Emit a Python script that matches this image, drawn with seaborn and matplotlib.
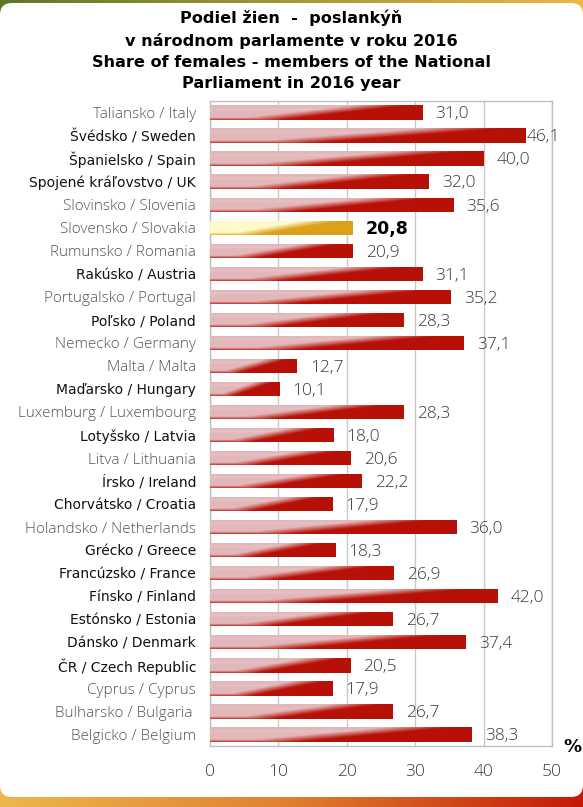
import numpy as np
import pandas as pd
import matplotlib
matplotlib.use("Agg")
import matplotlib.pyplot as plt
from matplotlib.patches import FancyBboxPatch
import seaborn as sns

# Share of women among members of national parliaments, 2016 (%)
countries = [
    "Taliansko / Italy", "Švédsko / Sweden", "Španielsko / Spain",
    "Spojené kráľovstvo / UK", "Slovinsko / Slovenia", "Slovensko / Slovakia",
    "Rumunsko / Romania", "Rakúsko / Austria", "Portugalsko / Portugal",
    "Poľsko / Poland", "Nemecko / Germany", "Malta / Malta",
    "Maďarsko / Hungary", "Luxemburg / Luxembourg", "Lotyšsko / Latvia",
    "Litva / Lithuania", "Írsko / Ireland", "Chorvátsko / Croatia",
    "Holandsko / Netherlands", "Grécko / Greece", "Francúzsko / France",
    "Fínsko / Finland", "Estónsko / Estonia", "Dánsko / Denmark",
    "ČR / Czech Republic", "Cyprus / Cyprus", "Bulharsko / Bulgaria ",
    "Belgicko / Belgium",
]
values = [
    31.0, 46.1, 40.0, 32.0, 35.6, 20.8, 20.9, 31.1, 35.2, 28.3, 37.1, 12.7,
    10.1, 28.3, 18.0, 20.6, 22.2, 17.9, 36.0, 18.3, 26.9, 42.0, 26.7, 37.4,
    20.5, 17.9, 26.7, 38.3,
]
# labels printed in the darker typeface
dark_labels = [
    "Švédsko / Sweden", "Španielsko / Spain", "Spojené kráľovstvo / UK",
    "Rakúsko / Austria", "Poľsko / Poland", "Maďarsko / Hungary",
    "Lotyšsko / Latvia", "Írsko / Ireland", "Chorvátsko / Croatia",
    "Grécko / Greece", "Francúzsko / France", "Fínsko / Finland",
    "Estónsko / Estonia", "Dánsko / Denmark", "ČR / Czech Republic",
]
highlight = "Slovensko / Slovakia"
x_ticks = [0, 10, 20, 30, 40, 50]

title = ("Podiel žien  -  poslankýň\n"
         "v národnom parlamente v roku 2016\n"
         "Share of females - members of the National\n"
         "Parliament in 2016 year")

df = pd.DataFrame({"country": countries, "value": values})

sns.set_theme(style="white")
plt.rcParams["font.family"] = ["DejaVu Sans"]

W, H = 583, 807
fig = plt.figure(figsize=(W / 100, H / 100), dpi=100)

# ---- frame: coloured bands behind a white rounded panel
bg = fig.add_axes([0, 0, 1, 1], zorder=-10)
bg.axis("off")
cols = np.linspace(0, 1, W)[None, :, None]
top_l = np.array([0.37, 0.47, 0.16])
top_r = np.array([0.93, 0.72, 0.25])
bot_l = np.array([0.93, 0.72, 0.30])
bot_m = np.array([0.88, 0.50, 0.18])
bot_r = np.array([0.77, 0.10, 0.03])
top_band = top_l + (top_r - top_l) * cols
bot_band = np.where(cols < 0.5,
                    bot_l + (bot_m - bot_l) * (cols / 0.5),
                    bot_m + (bot_r - bot_m) * ((cols - 0.5) / 0.5))
img = np.concatenate([np.repeat(top_band, H // 2, axis=0),
                      np.repeat(bot_band, H - H // 2, axis=0)], axis=0)
bg.imshow(img, extent=[0, W, H, 0], aspect="auto", interpolation="bilinear")
bg.add_patch(FancyBboxPatch((0, 3), W, 794,
                            boxstyle="round,pad=0,rounding_size=12",
                            fc="white", ec="none"))
bg.set_xlim(0, W)
bg.set_ylim(H, 0)

# ---- main chart
ax = fig.add_axes([210 / W, 1 - 746 / H, 342 / W, 645 / H])
sns.barplot(data=df, y="country", x="value", orient="h", ax=ax,
            width=0.62, color="#b81205", errorbar=None, zorder=3)


def bar_gradient(c_light, c_dark, nx=200, ny=40):
    u = np.linspace(0, 1, nx)[None, :]
    v = np.linspace(0, 1, ny)[:, None]          # 0 = top edge, 1 = bottom edge
    edge = 0.2 + 0.6 * (1 - v)
    mix = np.clip((u - edge) / 0.26 + 0.5, 0, 1)
    mix = np.maximum(mix, np.clip((v - 0.84) / 0.16, 0, 1) * 0.8)
    rgb = c_light[None, None, :] * (1 - mix[..., None]) + c_dark[None, None, :] * mix[..., None]
    shine = 0.12 * np.exp(-((v - 0.28) / 0.08) ** 2)
    rgb = rgb + (1 - rgb) * shine[..., None] * (1 - mix[..., None])
    return np.clip(rgb, 0, 1)


red_img = bar_gradient(np.array([0.89, 0.72, 0.73]), np.array([0.72, 0.07, 0.03]))
gold_img = bar_gradient(np.array([1.00, 0.98, 0.78]), np.array([0.87, 0.63, 0.10]))

for patch, name in zip(ax.patches, countries):
    x0, y0 = patch.get_x(), patch.get_y()
    w, h = patch.get_width(), patch.get_height()
    patch.set_facecolor("none")
    patch.set_edgecolor("none")
    im = ax.imshow(gold_img if name == highlight else red_img,
                   extent=[x0, x0 + w, y0 + h, y0], origin="upper",
                   aspect="auto", interpolation="bilinear", zorder=3)
    im.set_clip_path(patch)

for i, (name, v) in enumerate(zip(countries, values)):
    txt = f"{v:.1f}".replace(".", ",")
    xpos = min(v + 1.9, 46.3)
    if name == highlight:
        ax.text(xpos, i + 0.05, txt, va="center", ha="left", fontsize=12.5,
                fontweight="bold", color="black", family="DejaVu Sans", zorder=4)
    else:
        ax.text(xpos, i + 0.08, txt, va="center", ha="left", fontsize=12.5,
                color="#3a3a3a", family="Open Sans", fontweight="light", zorder=4)

ax.set_xlim(0, 50)
ax.set_ylim(len(countries) - 0.5, -0.5)
ax.set_xticks(x_ticks)
ax.set_xticklabels([str(t) for t in x_ticks], fontsize=12.5, color="#3a3a3a",
                   family="Open Sans", fontweight="light")
ax.set_xlabel("")
ax.set_ylabel("")
ax.tick_params(axis="x", length=0, pad=13)
ax.tick_params(axis="y", length=0, pad=10)
ax.grid(axis="x", color="#c8c8c8", linewidth=1, zorder=0)
ax.set_axisbelow(True)
for s in ax.spines.values():
    s.set_visible(True)
    s.set_color("#bfbfbf")
    s.set_linewidth(1)

for lbl in ax.get_yticklabels():
    name = lbl.get_text()
    if name in dark_labels:
        lbl.set_family("DejaVu Sans")
        lbl.set_fontsize(10.0)
        lbl.set_color("#111111")
    else:
        lbl.set_family("Open Sans")
        lbl.set_fontweight("light")
        lbl.set_fontsize(11.0)
        lbl.set_color("#555555")

fig.text(0.5, 1 - 9.5 / H, title, ha="center", va="top", fontsize=11.6,
         fontweight="bold", linespacing=1.52, color="black")
fig.text(572 / W, 1 - 747 / H, "%", ha="center", va="center", fontsize=13,
         fontweight="bold", color="black")

fig.savefig("out.png", dpi=100)
